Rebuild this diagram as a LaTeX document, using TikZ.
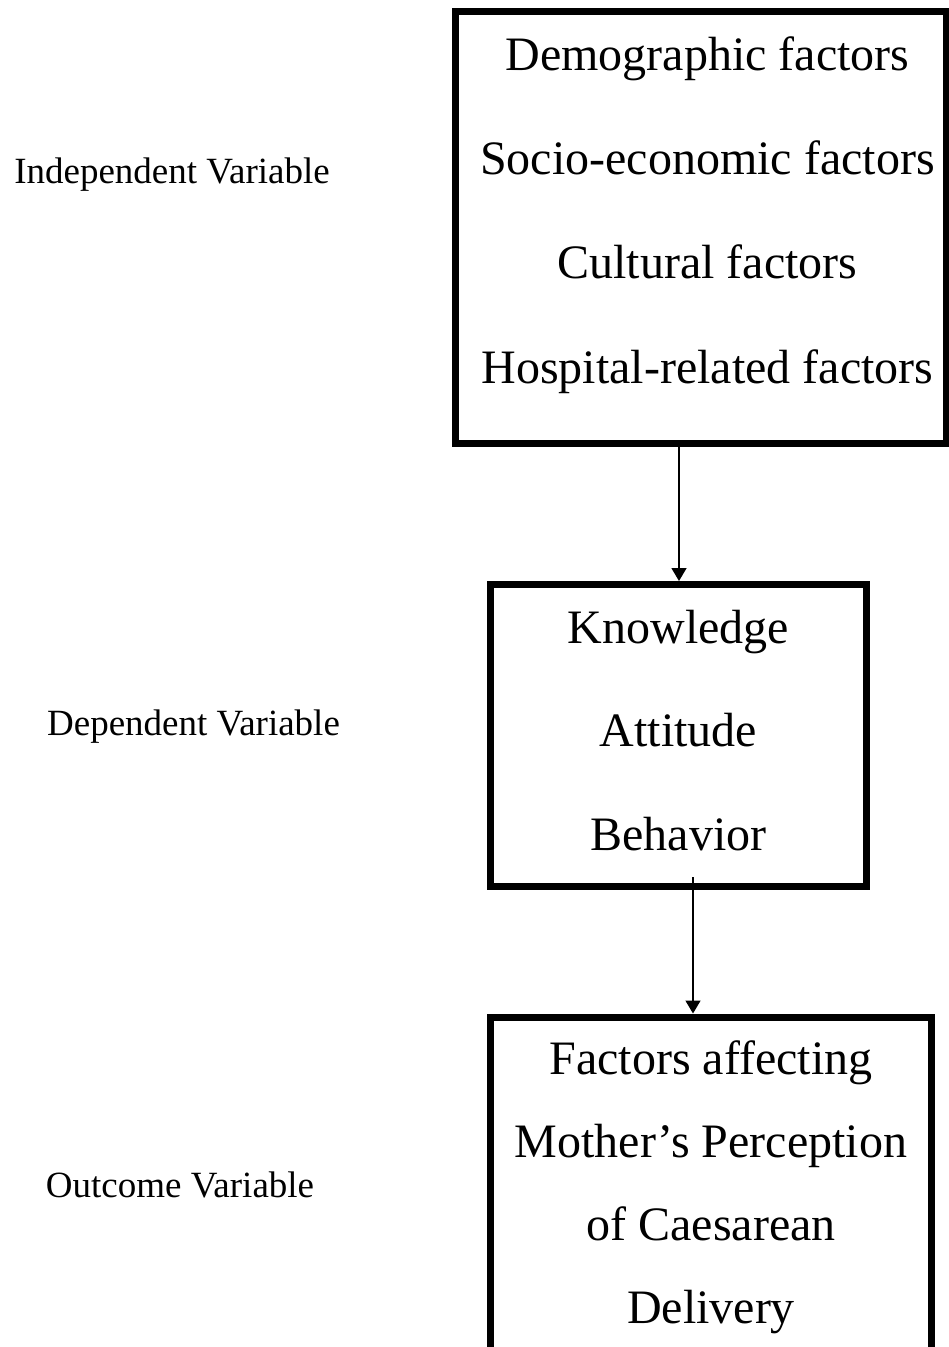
\documentclass[tikz,border=0pt]{standalone}
\usepackage{fontspec}
\setmainfont{Liberation Serif}
\usetikzlibrary{arrows.meta}
\begin{document}
\begin{tikzpicture}[x=1pt,y=-1pt,
  boxstyle/.style={draw=black,line width=7pt,rectangle,inner sep=0pt,fill=none},
  bigtext/.style={anchor=base,inner sep=0pt,font=\fontsize{48}{58}\selectfont},
  sidetext/.style={anchor=base,inner sep=0pt,font=\fontsize{37}{44}\selectfont},
  conn/.style={line width=1.5pt,-{Triangle[width=15pt,length=13pt]}}]
\useasboundingbox (0,0) rectangle (949,1347);
\clip (0,0) rectangle (949,1347);
\fill[white] (0,0) rectangle (949,1347);
% boxes
\node[boxstyle,minimum width=490.5pt,minimum height=432pt] (box1) at (700.75,227.5) {};
\node[boxstyle,minimum width=375.5pt,minimum height=301.5pt] (box2) at (678.25,735.25) {};
\node[boxstyle,minimum width=441pt,minimum height=343pt] (box3) at (711,1188.5) {};
% box 1 text
\node[bigtext] (t1a) at (707.5,70) {Demographic factors};
\node[bigtext] (t1b) at (707.5,174) {Socio-economic factors};
\node[bigtext] (t1c) at (707.5,278) {Cultural factors};
\node[bigtext] (t1d) at (707.5,383) {Hospital-related factors};
% box 2 text
\node[bigtext] (t2a) at (678.5,643) {Knowledge};
\node[bigtext] (t2b) at (678.5,746) {Attitude};
\node[bigtext] (t2c) at (678.5,850) {Behavior};
% box 3 text
\node[bigtext] (t3a) at (711,1074) {Factors affecting};
\node[bigtext] (t3b) at (711,1157) {Mother’s Perception};
\node[bigtext] (t3c) at (711,1240) {of Caesarean};
\node[bigtext] (t3d) at (711,1323) {Delivery};
% side labels
\node[sidetext] (l1) at (172,183) {Independent Variable};
\node[sidetext] (l2) at (193.5,735) {Dependent Variable};
\node[sidetext] (l3) at (180,1197) {Outcome Variable};
% connectors
\coordinate (a1s) at (679,447);
\coordinate (a2s) at (693,877);
\draw[conn] (a1s) -- (a1s |- box2.north);
\draw[conn] (a2s) -- (a2s |- box3.north);
\end{tikzpicture}
\end{document}
